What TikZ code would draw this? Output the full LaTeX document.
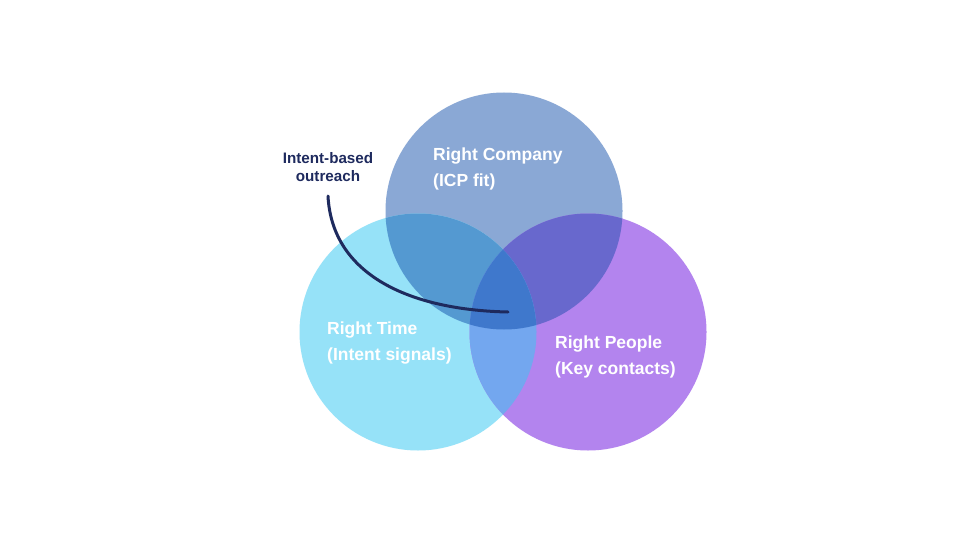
\documentclass[tikz,border=0pt]{standalone}
\usepackage{fontspec}
\setmainfont{Liberation Sans}
\definecolor{cTop}{HTML}{8AA8D5}
\definecolor{cLeft}{HTML}{96E2F8}
\definecolor{cRight}{HTML}{B384EE}
\definecolor{cTL}{HTML}{5499D1}
\definecolor{cTR}{HTML}{6868CD}
\definecolor{cLR}{HTML}{73A7EF}
\definecolor{cAll}{HTML}{3F78CC}
\definecolor{navy}{HTML}{1E2A5E}
\tikzset{
  lbl/.style={text=white, font=\bfseries\fontsize{17.5}{26}\selectfont, align=left, anchor=west, inner sep=0pt},
  note/.style={text=navy, font=\bfseries\fontsize{15.2}{18}\selectfont, align=center, inner sep=0pt},
  curve/.style={draw=navy, line width=3pt, line cap=round}
}
\begin{document}
\begin{tikzpicture}[x=1pt,y=-1pt]
\useasboundingbox (0,0) rectangle (960,540);
\fill[white] (0,0) rectangle (960,540);
\coordinate (cT) at (504,211);
\coordinate (cL) at (418,332);
\coordinate (cR) at (588,332);
\def\rr{118.5pt}
% base circles
\fill[cTop] (cT) circle (\rr);
\fill[cLeft] (cL) circle (\rr);
\fill[cRight] (cR) circle (\rr);
% pairwise overlaps
\begin{scope}\clip (cT) circle (\rr); \fill[cTL] (cL) circle (\rr);\end{scope}
\begin{scope}\clip (cT) circle (\rr); \fill[cTR] (cR) circle (\rr);\end{scope}
\begin{scope}\clip (cL) circle (\rr); \fill[cLR] (cR) circle (\rr);\end{scope}
% triple overlap
\begin{scope}\clip (cT) circle (\rr); \clip (cL) circle (\rr); \fill[cAll] (cR) circle (\rr);\end{scope}
% labels
\node[lbl] (company) at (433,169) {Right Company\\(ICP fit)};
\node[lbl] (time) at (327,343) {Right Time\\(Intent signals)};
\node[lbl] (people) at (555,357) {Right People\\(Key contacts)};
\node[note] (intent) at (328,167) {Intent-based\\outreach};
% curve
\coordinate (cs) at (328,196);
\coordinate (ce) at (508,312);
\draw[curve] (cs) .. controls (332,275) and (410,310) .. (ce);
\end{tikzpicture}
\end{document}
